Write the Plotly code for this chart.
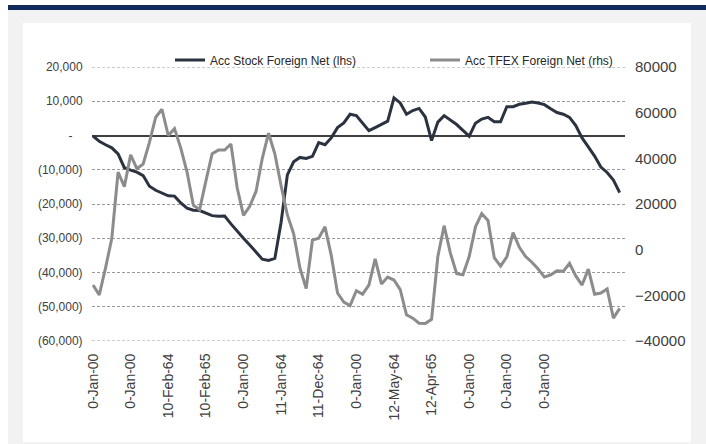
import plotly.graph_objects as go

tick_labels = ["0-Jan-00", "0-Jan-00", "10-Feb-64", "10-Feb-65", "0-Jan-00", "11-Jan-64",
               "11-Dec-64", "0-Jan-00", "12-May-64", "12-Apr-65", "0-Jan-00", "0-Jan-00", "0-Jan-00"]
label_every = 6

stock = [-150, -1700, -2700, -3600, -5400, -9400, -10100, -10700, -11700, -14800,
         -16000, -16900, -17600, -17700, -19700, -21200, -21800, -21900, -22700, -23400,
         -23600, -23500, -25800, -28000, -30000, -32000, -33900, -36100, -36500, -35900,
         -25300, -11500, -7700, -6400, -6700, -6100, -2100, -2700, -700, 2300,
         3700, 6200, 5800, 3700, 1400, 2300, 3200, 4200, 11000, 9500,
         6200, 7300, 7900, 5400, -1500, 3900, 5800, 4500, 3200, 1500,
         -200, 3600, 4800, 5300, 4000, 4000, 8400, 8400, 9100, 9400,
         9800, 9500, 9000, 7800, 6700, 6200, 5300, 2900, -700, -3300,
         -6000, -9200, -10800, -13000, -16700]

tfex = [-15500, -19800, -8000, 5000, 34000, 27600, 41500, 35500, 37500, 47000,
        58000, 61500, 50000, 53000, 44500, 34000, 19500, 17500, 30000, 42000,
        43600, 43600, 46300, 27000, 15000, 19000, 25500, 40000, 51000, 42000,
        28000, 15200, 7000, -8000, -17000, 4200, 5000, 10000, -2500, -19000,
        -23000, -24500, -18000, -19500, -15500, -4000, -15000, -12000, -13300, -17500,
        -28500, -30000, -32200, -32300, -30500, -3000, 10500, -1500, -10500, -11000,
        -3000, 10000, 15800, 12800, -3500, -7200, -3200, 7500, 1000, -3000,
        -5500, -8500, -12000, -11000, -9300, -9500, -6000, -11500, -15500, -8500,
        -19500, -19000, -17200, -30000, -25700]

left_ticks = [20000, 10000, 0, -10000, -20000, -30000, -40000, -50000, -60000]
left_text = ["20,000", "10,000", "-\u00a0\u00a0\u00a0", "(10,000)", "(20,000)", "(30,000)",
             "(40,000)", "(50,000)", "(60,000)"]
right_ticks = [80000, 60000, 40000, 20000, 0, -20000, -40000]

x = list(range(len(stock)))
tick_pos = [i * label_every for i in range(len(tick_labels))]

FONT = "Liberation Sans, Arial, sans-serif"
TXT = "#404040"
GRID = "#9a9a9a"

fig = go.Figure()
fig.add_trace(go.Scatter(x=x, y=stock, mode="lines", name="Acc Stock Foreign Net (lhs)",
                         line=dict(color="#2b3240", width=3)))
fig.add_trace(go.Scatter(x=x, y=tfex, mode="lines", name="Acc TFEX Foreign Net (rhs)",
                         line=dict(color="#8c8c8c", width=3), yaxis="y2"))

W, H = 706, 444
L, R, T, B = 92, 625, 67, 341
pw, ph = R - L, B - T


def px(v):
    return (v - L) / pw


def py(v):
    return (B - v) / ph


shapes = [
    dict(type="rect", xref="paper", yref="paper", x0=px(8), x1=px(706), y0=py(444), y1=py(10),
         fillcolor="#f2f2f2", line=dict(width=0), layer="below"),
    dict(type="rect", xref="paper", yref="paper", x0=px(8), x1=px(706), y0=py(10), y1=py(5),
         fillcolor="#102a5c", line=dict(width=0), layer="below"),
    dict(type="rect", xref="paper", yref="paper", x0=px(23), x1=px(691), y0=py(442), y1=py(23),
         fillcolor="#ffffff", line=dict(width=0), layer="below"),
]
# dashed gridlines at the two edge ticks (plotly omits gridlines on the plot edges)
for v in (left_ticks[0], left_ticks[-1]):
    shapes.append(dict(type="line", xref="paper", yref="y", x0=0, x1=1, y0=v, y1=v,
                       line=dict(color=GRID, width=1, dash="3px,2px"), layer="below"))

fig.update_layout(
    width=W, height=H,
    margin=dict(l=L, r=W - R, t=T, b=H - B, pad=0),
    paper_bgcolor="#ffffff", plot_bgcolor="rgba(0,0,0,0)",
    font=dict(family=FONT, color=TXT),
    shapes=shapes,
    showlegend=True,
    hovermode=False,
    legend=dict(orientation="h", x=px(170), xanchor="left", y=py(60), yanchor="middle",
                font=dict(size=12, color="#262626"), bgcolor="rgba(0,0,0,0)",
                entrywidth=210, entrywidthmode="pixels", tracegroupgap=0),
    xaxis=dict(range=[-0.16, 84.85], tickvals=tick_pos, ticktext=tick_labels, tickangle=-90,
               showgrid=False, zeroline=False, showline=False, ticks="outside", ticklen=6,
               tickcolor="rgba(0,0,0,0)", tickfont=dict(size=14, color=TXT)),
    yaxis=dict(range=[-60000, 20000], tickvals=left_ticks, ticktext=left_text,
               showgrid=True, gridcolor=GRID, gridwidth=1, griddash="3px,2px",
               zeroline=True, zerolinecolor="#404040", zerolinewidth=1.5,
               showline=False, ticks="outside", ticklen=6, tickcolor="rgba(0,0,0,0)",
               tickfont=dict(size=12, color=TXT)),
    yaxis2=dict(range=[-40000, 80000], tickvals=right_ticks, tickformat="d", overlaying="y",
                side="right", showgrid=False, zeroline=False, showline=False,
                ticks="outside", ticklen=6, tickcolor="rgba(0,0,0,0)",
                tickfont=dict(size=15, color=TXT)),
)

fig.write_html(
    "out.html",
    config={"displayModeBar": False},
    post_script="document.body.style.margin='0px';document.documentElement.style.overflow='hidden';",
)
